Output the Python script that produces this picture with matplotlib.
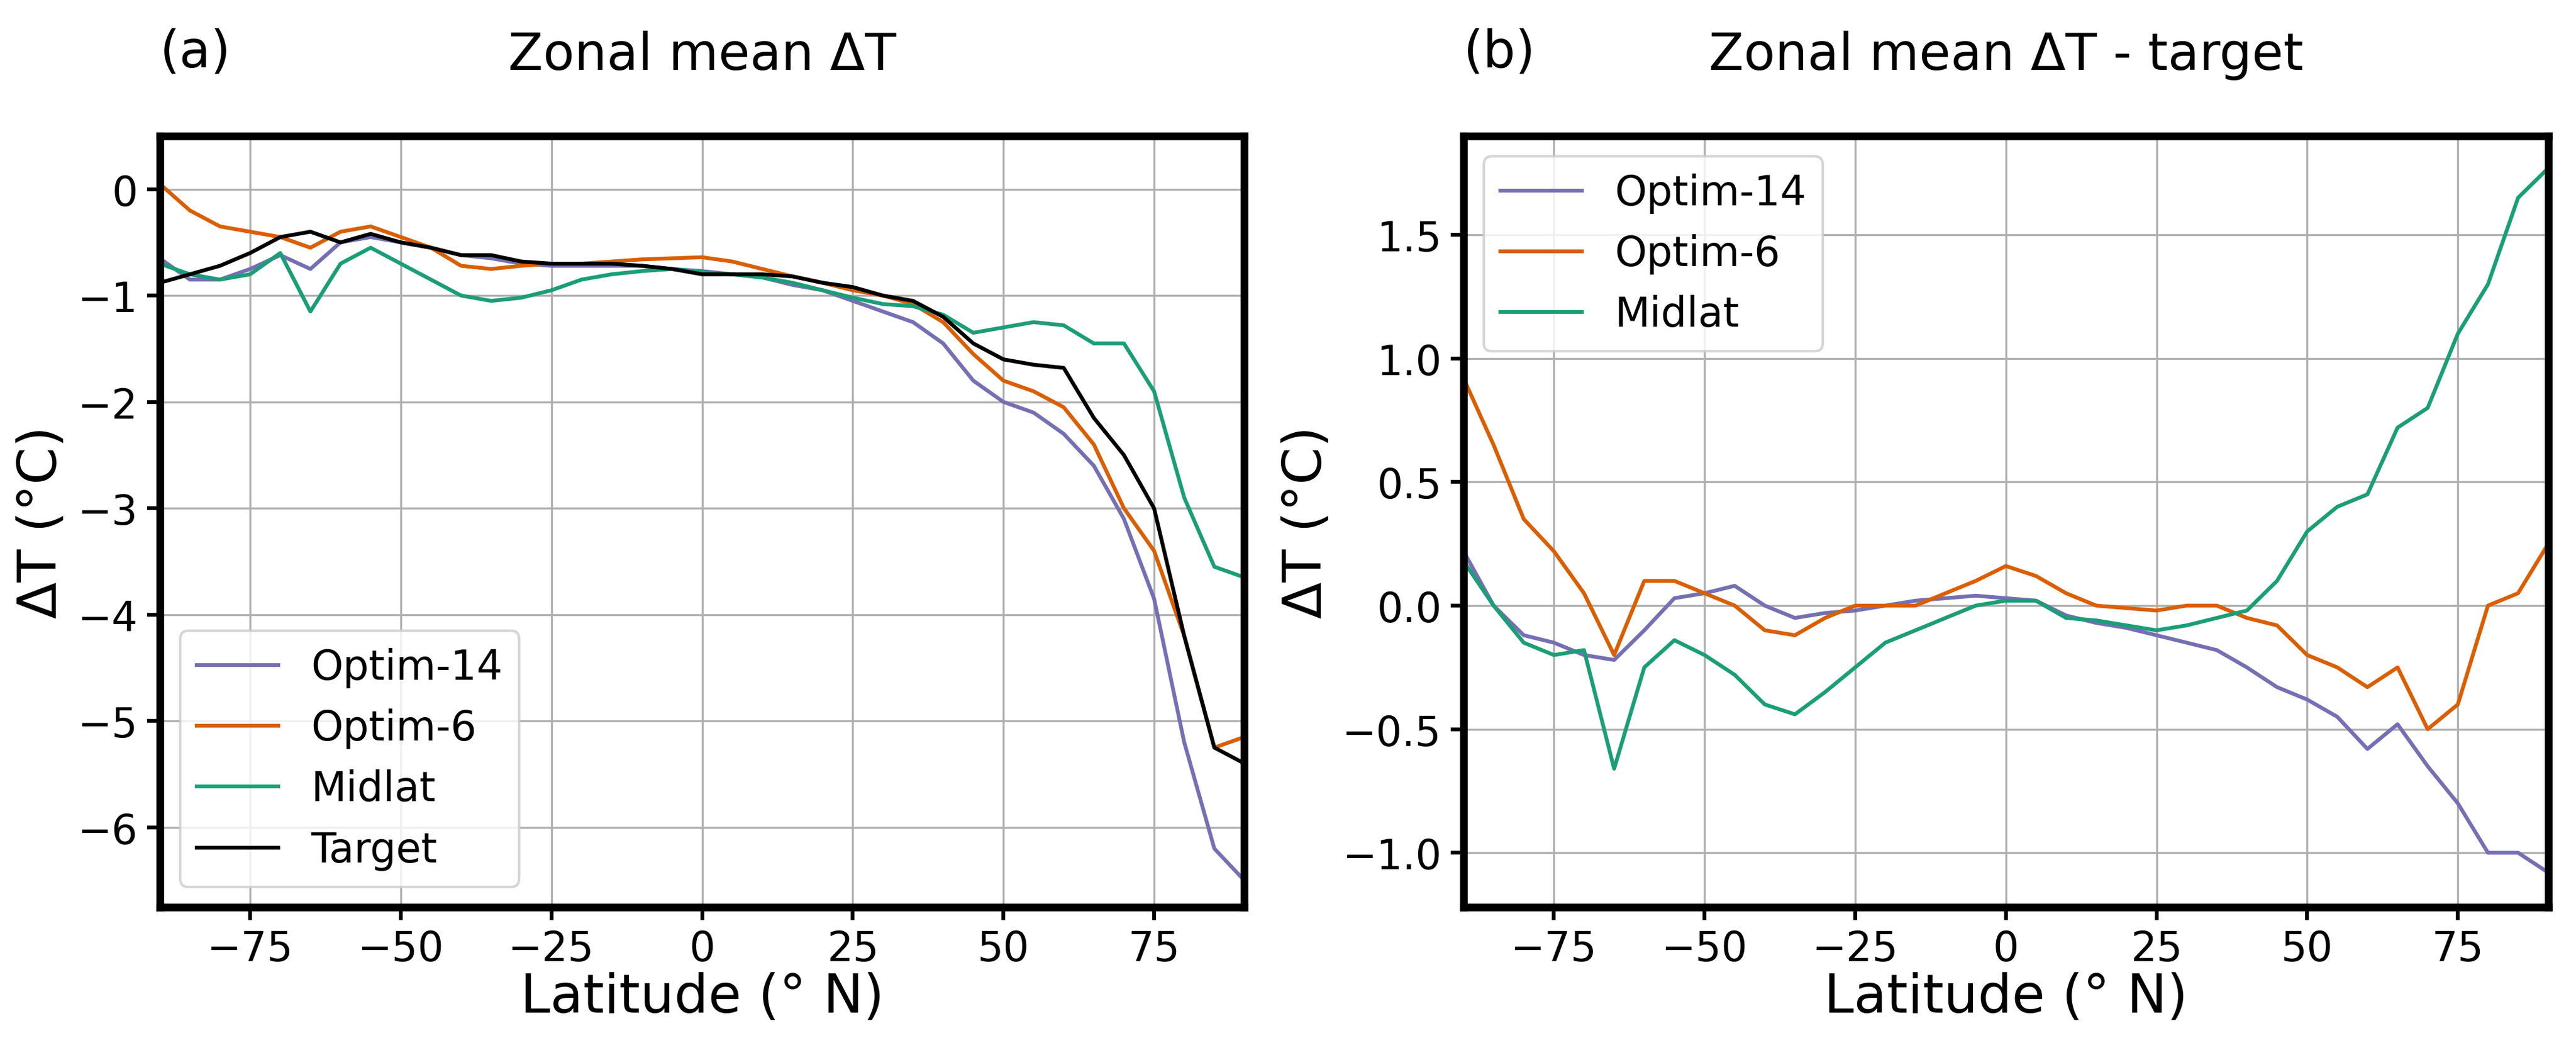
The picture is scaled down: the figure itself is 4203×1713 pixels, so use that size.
import numpy as np
import matplotlib.pyplot as plt

lat = np.arange(-90, 91, 5)

# panel (a): zonal mean dT
optim14_a = [-0.65, -0.85, -0.85, -0.75, -0.62, -0.75, -0.5, -0.45, -0.5, -0.55, -0.62, -0.65, -0.7,
             -0.72, -0.72, -0.72, -0.72, -0.75, -0.77, -0.8, -0.83, -0.9, -0.95, -1.05, -1.15, -1.25,
             -1.45, -1.8, -2.0, -2.1, -2.3, -2.6, -3.1, -3.85, -5.2, -6.2, -6.5]
optim6_a = [0.05, -0.2, -0.35, -0.4, -0.45, -0.55, -0.4, -0.35, -0.45, -0.55, -0.72, -0.75, -0.72,
            -0.7, -0.7, -0.68, -0.66, -0.65, -0.64, -0.68, -0.75, -0.82, -0.88, -0.95, -1.0, -1.08,
            -1.25, -1.55, -1.8, -1.9, -2.05, -2.4, -3.0, -3.4, -4.2, -5.25, -5.15]
midlat_a = [-0.7, -0.8, -0.85, -0.8, -0.6, -1.15, -0.7, -0.55, -0.7, -0.85, -1.0, -1.05, -1.02,
            -0.95, -0.85, -0.8, -0.77, -0.75, -0.78, -0.8, -0.83, -0.88, -0.95, -1.02, -1.08, -1.1,
            -1.18, -1.35, -1.3, -1.25, -1.28, -1.45, -1.45, -1.9, -2.9, -3.55, -3.65]
target_a = [-0.88, -0.8, -0.72, -0.6, -0.45, -0.4, -0.5, -0.42, -0.5, -0.55, -0.62, -0.62, -0.68,
            -0.7, -0.7, -0.7, -0.72, -0.75, -0.8, -0.8, -0.8, -0.82, -0.88, -0.92, -1.0, -1.05,
            -1.2, -1.45, -1.6, -1.65, -1.68, -2.15, -2.5, -3.0, -4.2, -5.25, -5.4]

# panel (b): difference to target
optim14_b = [0.22, 0.0, -0.12, -0.15, -0.2, -0.22, -0.1, 0.03, 0.05, 0.08, 0.0, -0.05, -0.03,
             -0.02, 0.0, 0.02, 0.03, 0.04, 0.03, 0.02, -0.04, -0.07, -0.09, -0.12, -0.15, -0.18,
             -0.25, -0.33, -0.38, -0.45, -0.58, -0.48, -0.65, -0.8, -1.0, -1.0, -1.08]
optim6_b = [0.92, 0.65, 0.35, 0.22, 0.05, -0.2, 0.1, 0.1, 0.05, 0.0, -0.1, -0.12, -0.05,
            0.0, 0.0, 0.0, 0.05, 0.1, 0.16, 0.12, 0.05, 0.0, -0.01, -0.02, 0.0, 0.0,
            -0.05, -0.08, -0.2, -0.25, -0.33, -0.25, -0.5, -0.4, 0.0, 0.05, 0.25]
midlat_b = [0.18, 0.0, -0.15, -0.2, -0.18, -0.66, -0.25, -0.14, -0.2, -0.28, -0.4, -0.44, -0.35,
            -0.25, -0.15, -0.1, -0.05, 0.0, 0.02, 0.02, -0.05, -0.06, -0.08, -0.1, -0.08, -0.05,
            -0.02, 0.1, 0.3, 0.4, 0.45, 0.72, 0.8, 1.1, 1.3, 1.65, 1.77]

c14 = '#7570b3'
c6 = '#d95f02'
cmid = '#1b9e77'

fig = plt.figure(figsize=(14.013, 5.713), dpi=300)
ax1 = fig.add_axes([0.062, 0.136, 0.421, 0.734])
ax2 = fig.add_axes([0.568, 0.136, 0.421, 0.734])

ax1.plot(lat, optim14_a, color=c14, label='Optim-14')
ax1.plot(lat, optim6_a, color=c6, label='Optim-6')
ax1.plot(lat, midlat_a, color=cmid, label='Midlat')
ax1.plot(lat, target_a, color='black', label='Target')
ax1.set_ylim(-6.75, 0.5)
ax1.set_title('Zonal mean ΔT', fontsize=20, pad=26)
ax1.text(0.0, 1.09, '(a)', transform=ax1.transAxes, fontsize=20)
ax1.legend(loc='lower left', fontsize=16)

ax2.plot(lat, optim14_b, color=c14, label='Optim-14')
ax2.plot(lat, optim6_b, color=c6, label='Optim-6')
ax2.plot(lat, midlat_b, color=cmid, label='Midlat')
ax2.set_ylim(-1.22, 1.9)
ax2.set_title('Zonal mean ΔT - target', fontsize=20, pad=26)
ax2.text(0.0, 1.09, '(b)', transform=ax2.transAxes, fontsize=20)
ax2.legend(loc='upper left', fontsize=16)

for ax in (ax1, ax2):
    ax.set_xlim(-90, 90)
    ax.set_xticks([-75, -50, -25, 0, 25, 50, 75])
    ax.grid(True, color='#b0b0b0', linewidth=0.8)
    ax.set_xlabel('Latitude (° N)', fontsize=21, labelpad=1)
    ax.set_ylabel('ΔT (°C)', fontsize=21)
    ax.tick_params(labelsize=16, width=1.5, length=5)
    for s in ax.spines.values():
        s.set_linewidth(3)

fig.savefig('out.png')
